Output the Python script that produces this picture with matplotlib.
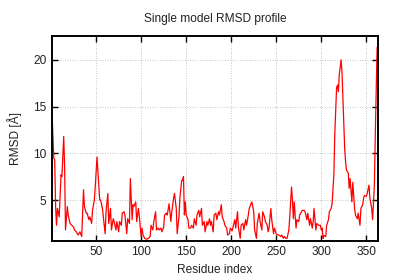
import numpy as np
import matplotlib
matplotlib.use('Agg')
import matplotlib.pyplot as plt

plt.rcParams['font.family'] = ['Liberation Sans', 'DejaVu Sans']

# ==========================================
# RMSD per residue
residue = [1, 3, 4, 5, 6, 7, 9, 11, 12, 14, 15, 16, 18, 19, 21, 23, 25, 26, 28, 30,
           32, 34, 36, 37, 39, 40, 42, 43, 45, 46, 48, 49, 51, 54, 55, 57, 58, 60, 61, 63,
           64, 66, 67, 69, 70, 72, 73, 75, 76, 78, 79, 81, 82, 84, 85, 87, 88, 90, 91, 92,
           94, 95, 97, 98, 100, 101, 102, 104, 106, 108, 110, 111, 113, 114, 116, 117, 119, 120, 122, 123,
           125, 126, 128, 129, 131, 133, 134, 136, 137, 139, 140, 142, 143, 145, 146, 147, 148, 149, 150, 152,
           153, 155, 156, 158, 159, 161, 162, 164, 165, 167, 168, 170, 171, 173, 174, 176, 177, 178, 180, 181,
           183, 184, 186, 187, 189, 190, 192, 193, 195, 196, 198, 199, 201, 202, 204, 205, 207, 208, 210, 211,
           213, 214, 216, 217, 219, 220, 222, 223, 225, 226, 228, 229, 231, 232, 234, 235, 237, 238, 240, 241,
           242, 244, 245, 247, 248, 250, 251, 253, 255, 256, 258, 259, 261, 262, 264, 265, 267, 268, 269, 270,
           272, 273, 275, 276, 278, 279, 281, 282, 284, 285, 287, 288, 290, 291, 292, 294, 295, 297, 298, 299,
           300, 301, 302, 303, 305, 306, 308, 309, 311, 312, 314, 315, 316, 317, 318, 319, 320, 322, 323, 324,
           326, 327, 328, 330, 331, 332, 334, 335, 337, 338, 340, 341, 343, 344, 346, 347, 348, 350, 351, 353,
           354, 356, 357, 359, 360, 362]
rmsd = [14.3, 9.5, 9.3, 4.3, 2.3, 4.1, 3.2, 7.7, 7.5, 11.8, 8.6, 1.8, 4.3, 3.4, 2.5, 2.3, 2.1, 1.8, 1.6, 1.25,
        1.6, 1.1, 6.1, 4.3, 3.6, 3.6, 2.9, 3.2, 2.5, 3.9, 5.0, 6.4, 9.6, 5.0, 5.0, 4.1, 3.2, 1.4, 3.75, 5.7,
        2.5, 4.1, 1.8, 3.0, 2.7, 1.8, 2.7, 1.6, 2.7, 2.3, 3.6, 3.75, 3.4, 1.4, 3.0, 2.5, 7.3, 2.9, 4.5, 4.3,
        4.8, 2.7, 4.1, 3.2, 1.1, 2.0, 1.25, 0.9, 0.8, 0.9, 1.1, 2.3, 1.8, 2.7, 3.75, 1.8, 2.0, 1.8, 2.0, 1.6,
        2.1, 3.4, 3.6, 3.4, 4.6, 2.7, 3.75, 5.2, 5.7, 4.1, 1.4, 3.2, 5.2, 7.1, 7.1, 7.5, 3.4, 4.8, 3.4, 2.9,
        2.0, 2.0, 2.3, 2.0, 3.0, 2.3, 3.4, 3.9, 3.2, 4.1, 2.3, 2.7, 1.6, 2.7, 2.3, 3.0, 2.3, 2.7, 1.6, 3.4,
        3.6, 2.9, 3.75, 3.4, 4.5, 3.2, 2.7, 2.3, 2.0, 1.25, 1.4, 2.0, 1.7, 2.1, 2.9, 2.0, 3.75, 2.1, 0.9, 2.3,
        2.5, 1.8, 2.9, 2.3, 3.4, 4.1, 4.6, 4.8, 3.75, 1.8, 0.9, 2.5, 3.6, 2.7, 1.8, 3.75, 3.2, 2.7, 2.3, 1.6,
        2.0, 4.1, 2.9, 1.4, 2.0, 1.4, 1.3, 1.25, 1.1, 1.25, 0.9, 1.1, 0.9, 0.9, 1.8, 3.2, 6.4, 5.0, 3.0, 4.8,
        2.0, 2.9, 2.7, 3.4, 3.75, 3.9, 3.9, 3.75, 2.9, 3.6, 2.3, 3.0, 2.0, 2.7, 4.1, 1.8, 2.5, 2.3, 2.3, 2.3,
        1.8, 2.0, 0.9, 1.2, 1.1, 2.3, 2.9, 3.75, 4.1, 4.6, 7.7, 12.0, 14.6, 17.0, 17.3, 16.6, 18.4, 20.0, 18.75, 15.9,
        10.5, 9.1, 8.2, 7.9, 6.25, 7.3, 4.8, 6.9, 4.1, 3.4, 3.0, 3.6, 2.3, 4.1, 4.5, 5.2, 5.5, 5.4, 5.7, 6.6,
        5.2, 4.1, 2.9, 6.6, 12.0, 21.3]

x_ticks = [50, 100, 150, 200, 250, 300, 350]
y_ticks = [5, 10, 15, 20]

# ==========================================
fig, ax = plt.subplots(figsize=(4, 2.8), dpi=100)
fig.subplots_adjust(left=0.13, right=0.945, bottom=0.14, top=0.873)

ax.plot(residue, rmsd, color='#ff0000', lw=0.9)

ax.set_xlim(1, 363)
ax.set_ylim(0.64, 22.6)
ax.set_xticks(x_ticks)
ax.set_yticks(y_ticks)
ax.grid(True, color='#b0b0b0', linestyle=(0, (1, 2)), lw=0.6)

for s in ax.spines.values():
    s.set_linewidth(1.4)
ax.tick_params(direction='in', top=True, right=True, length=4, width=1,
               labelsize=8.6, pad=4, labelcolor='#222222')

ax.set_title('Single model RMSD profile', fontsize=8.6, pad=10, color='#222222')
ax.set_xlabel('Residue index', fontsize=8.6, labelpad=4, color='#222222')
ax.set_ylabel('RMSD [Å]', fontsize=8.6, labelpad=8, color='#222222')

fig.savefig('out.png', dpi=100)
